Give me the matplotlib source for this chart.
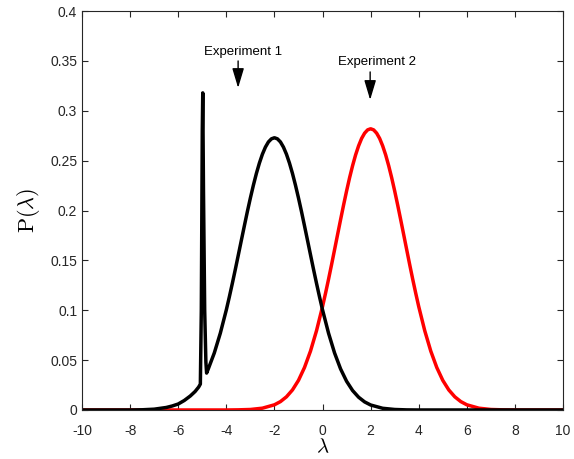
import matplotlib
matplotlib.use("Agg")
import matplotlib.pyplot as plt

plt.rcParams["font.family"] = ["Liberation Sans", "DejaVu Sans"]
plt.rcParams["mathtext.fontset"] = "cm"
plt.rcParams["axes.unicode_minus"] = False

# Experiment 1 (black): bump around -2 with a sharp spike near -5
exp1_x = [-10, -8, -7.5, -7.0, -6.5, -6.25, -6.0, -5.75, -5.5, -5.3, -5.15, -5.08, -5.04, -5.0,
          -4.98, -4.95, -4.9, -4.85, -4.82, -4.75, -4.5, -4.25, -4.0, -3.875, -3.75, -3.625,
          -3.5, -3.375, -3.25, -3.125, -3.0, -2.875, -2.75, -2.625, -2.5, -2.375, -2.25, -2.125,
          -2.0, -1.875, -1.75, -1.625, -1.5, -1.375, -1.25, -1.125, -1.0, -0.875, -0.75, -0.625,
          -0.5, -0.375, -0.25, -0.125, 0.0, 0.25, 0.5, 0.75, 1.0, 1.25, 1.5, 1.75, 2.0, 2.5,
          3.0, 3.5, 4.0, 10]
exp1_y = [0.0, 0.0, 0.0002, 0.0008, 0.0025, 0.004, 0.006, 0.0095, 0.014, 0.0185, 0.023, 0.026, 0.10, 0.28,
          0.318, 0.22, 0.10, 0.048, 0.037, 0.0412, 0.0572, 0.0770, 0.1004, 0.1134, 0.1270, 0.1411,
          0.1556, 0.1702, 0.1847, 0.1990, 0.2126, 0.2254, 0.2372, 0.2476, 0.2565, 0.2636, 0.2688, 0.2719,
          0.2730, 0.2719, 0.2688, 0.2636, 0.2565, 0.2476, 0.2372, 0.2254, 0.2126, 0.1990, 0.1847, 0.1702,
          0.1556, 0.1411, 0.1270, 0.1134, 0.1004, 0.0770, 0.0572, 0.0412, 0.0288, 0.0195, 0.0128, 0.0081, 0.0050, 0.0017,
          0.0005, 0.0001, 0.0, 0.0]

# Experiment 2 (red): bump around +2
exp2_x = [-10, -4.0, -3.5, -3.0, -2.5, -2.0, -1.75, -1.5, -1.25, -1.0, -0.75, -0.5, -0.25,
          0.0, 0.125, 0.25, 0.375, 0.5, 0.625, 0.75, 0.875, 1.0, 1.125, 1.25, 1.375, 1.5, 1.625,
          1.75, 1.875, 2.0, 2.125, 2.25, 2.375, 2.5, 2.625, 2.75, 2.875, 3.0, 3.125, 3.25, 3.375,
          3.5, 3.625, 3.75, 3.875, 4.0, 4.25, 4.5, 4.75, 5.0, 5.25, 5.5, 5.75, 6.0, 6.5, 7.0,
          7.5, 8.0, 10]
exp2_y = [0.0, 0.0, 0.00015, 0.0005, 0.0018, 0.0052, 0.0084, 0.0132, 0.0201, 0.0297, 0.0426, 0.0591, 0.0795,
          0.1037, 0.1171, 0.1311, 0.1457, 0.1607, 0.1758, 0.1908, 0.2055, 0.2196, 0.2329, 0.2450, 0.2558, 0.2649, 0.2723,
          0.2776, 0.2809, 0.2820, 0.2809, 0.2776, 0.2723, 0.2649, 0.2558, 0.2450, 0.2329, 0.2196, 0.2055, 0.1908, 0.1758,
          0.1607, 0.1457, 0.1311, 0.1171, 0.1037, 0.0795, 0.0591, 0.0426, 0.0297, 0.0201, 0.0132, 0.0084, 0.0052, 0.0018, 0.0005,
          0.00015, 0.0, 0.0]

xticks = [-10, -8, -6, -4, -2, 0, 2, 4, 6, 8, 10]
yticks = [0, 0.05, 0.1, 0.15, 0.2, 0.25, 0.3, 0.35, 0.4]
ytick_labels = ["0", "0.05", "0.1", "0.15", "0.2", "0.25", "0.3", "0.35", "0.4"]

fig = plt.figure(figsize=(5.74, 4.59), dpi=100)
ax = fig.add_axes([0.1429, 0.1068, 0.838, 0.869])

ax.plot(exp2_x, exp2_y, color="#ff0000", lw=2.5, solid_joinstyle="round")
ax.plot(exp1_x, exp1_y, color="black", lw=2.5, solid_joinstyle="round")

ax.set_xlim(-10, 10)
ax.set_ylim(0, 0.4)
ax.set_xticks(xticks)
ax.set_yticks(yticks)
ax.set_yticklabels(ytick_labels)

axcol = "#262626"
for s in ax.spines.values():
    s.set_color(axcol)
    s.set_linewidth(0.8)
ax.tick_params(direction="in", top=True, right=True, length=4, width=0.8,
               color=axcol, labelcolor=axcol, labelsize=10)
ax.tick_params(axis="x", pad=10)

ax.set_xlabel(r"$\lambda$", fontsize=15)
ax.xaxis.set_label_coords(0.5, -0.068)
ax.set_ylabel(r"$\mathrm{P}(\lambda)$", fontsize=16, labelpad=6)

# annotations
ax.text(-3.31, 0.359, "Experiment 1", ha="center", va="center", fontsize=9.5)
ax.annotate("", xy=(-3.51, 0.323), xytext=(-3.51, 0.350),
            arrowprops=dict(arrowstyle="-|>,head_length=1.2,head_width=0.36",
                            color="black", lw=1, shrinkA=0, shrinkB=0, mutation_scale=10))
ax.text(2.25, 0.349, "Experiment 2", ha="center", va="center", fontsize=9.5)
ax.annotate("", xy=(1.98, 0.311), xytext=(1.98, 0.339),
            arrowprops=dict(arrowstyle="-|>,head_length=1.2,head_width=0.36",
                            color="black", lw=1, shrinkA=0, shrinkB=0, mutation_scale=10))

fig.savefig("out.png", dpi=100)
